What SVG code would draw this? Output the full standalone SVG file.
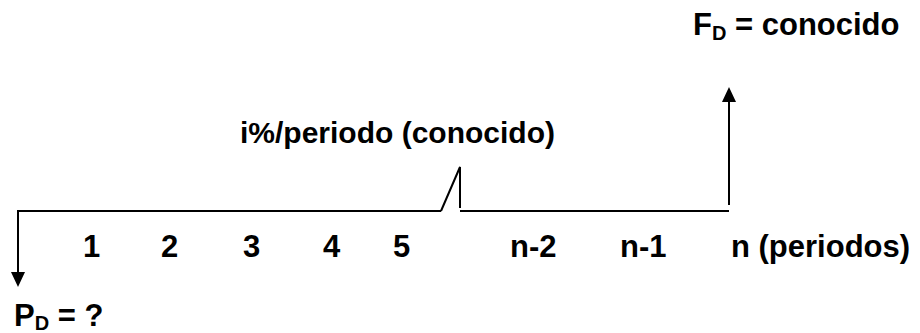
<svg xmlns="http://www.w3.org/2000/svg" width="920" height="333" viewBox="0 0 920 333">
<style>
text{font-family:"Liberation Sans",Arial,sans-serif;font-weight:bold;font-size:31px;fill:#000}
.sub{font-size:20px}
.ln{stroke:#000;stroke-width:2;fill:none}
</style>
<defs>
<marker id="ah" markerWidth="16" markerHeight="16" refX="1" refY="7" orient="auto" markerUnits="userSpaceOnUse">
<path d="M0,0 L15,7 L0,14 Z" fill="#000"/>
</marker>
</defs>
<rect width="920" height="333" fill="#fff"/>
<g id="connectors">
<path class="ln" d="M441,211 H18 V273" marker-end="url(#ah)"/>
<path class="ln" d="M441,211 L460,167 V208"/>
<path class="ln" d="M460,211 H729"/>
<path class="ln" d="M729,205 V101" marker-end="url(#ah)"/>
</g>
<g id="fd"><text x="693" y="35">F<tspan class="sub" dy="5">D</tspan><tspan dy="-5"> = conocido</tspan></text></g>
<g id="rate"><text x="555" y="143" text-anchor="end" style="font-size:30px">i%/periodo (conocido)</text></g>
<g id="periods">
<text x="83" y="257">1</text>
<text x="161" y="257">2</text>
<text x="243" y="257">3</text>
<text x="323" y="257">4</text>
<text x="393" y="257">5</text>
<text x="510" y="257">n-2</text>
<text x="620" y="257">n-1</text>
<text x="731" y="257">n (periodos)</text>
</g>
<g id="pd"><text x="14" y="326">P<tspan class="sub" dy="4">D</tspan><tspan dy="-4"> = ?</tspan></text></g>
</svg>
